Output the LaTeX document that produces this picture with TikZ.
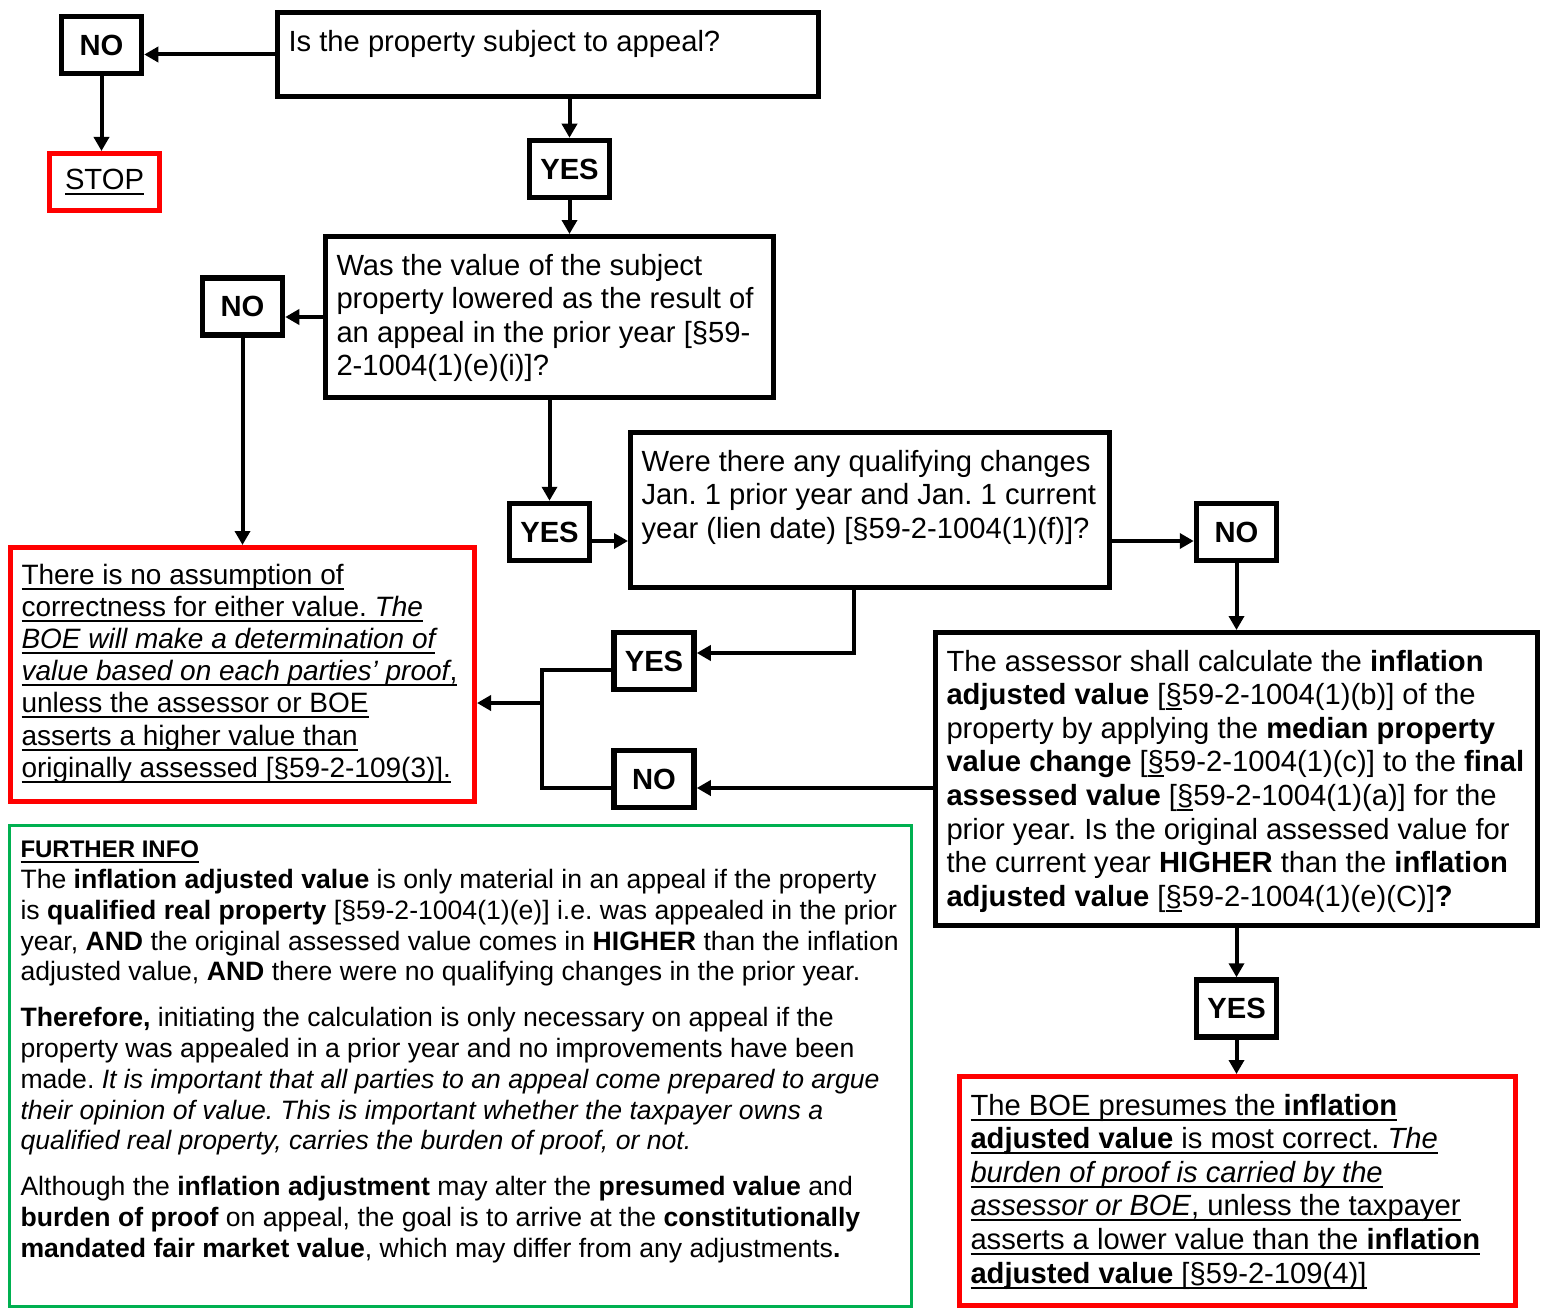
\documentclass[tikz,border=0pt]{standalone}
\usepackage{fontspec}
\setmainfont{Liberation Sans}
\usetikzlibrary{arrows.meta}
\tikzset{>={Triangle[length=14pt,width=15pt]}}
\frenchspacing

\definecolor{boxred}{RGB}{255,0,0}
\definecolor{boxgreen}{RGB}{0,176,80}

\newcommand{\mainsize}{\fontsize{29.2}{33.6}\selectfont}
\newcommand{\redsize}{\fontsize{28}{32.2}\selectfont}
\newcommand{\infosize}{\fontsize{26.6}{30.7}\selectfont}
\newcommand{\headsize}{\fontsize{24}{30.7}\selectfont}

\newsavebox{\ulsave}
\newcommand{\ulin}[1]{\leavevmode\sbox{\ulsave}{#1}\rlap{\rule[-5.5pt]{\wd\ulsave}{2pt}}\usebox{\ulsave}}
\newcommand{\boxtext}[3]{\parbox[c][#2][t]{#1}{\leftskip=11pt\rightskip=0pt plus 1fil\relax\strut#3}}

\begin{document}
\begin{tikzpicture}[x=1pt,y=-1pt,
    qbox/.style={draw,line width=5pt,inner xsep=0pt,inner ysep=15pt,anchor=north west,font=\mainsize},
    redbox/.style={qbox,draw=boxred},
    ans/.style={draw,line width=5.5pt,minimum width=80pt,minimum height=57pt,inner sep=0pt,font=\mainsize\bfseries},
    conn/.style={line width=4pt}]

  \useasboundingbox (0,0) rectangle (1551,1311);

  \node[qbox] (q1) at (275,10) {\boxtext{541pt}{54pt}{Is the property subject to appeal?}};
  \node[qbox] (q2) at (323,234) {\boxtext{448pt}{131pt}{Was the value of the subject\\
    property lowered as the result of\\
    an appeal in the prior year [§59-\\
    2-1004(1)(e)(i)]?}};
  \node[qbox] (q3) at (628,430) {\boxtext{479pt}{125pt}{Were there any qualifying changes\\
    Jan. 1 prior year and Jan. 1 current\\
    year (lien date) [§59-2-1004(1)(f)]?}};
  \node[qbox] (q4) at (933,630) {\boxtext{602pt}{263pt}{The assessor shall calculate the \textbf{inflation}\\
    \textbf{adjusted value} [\ulin{§}59-2-1004(1)(b)] of the\\
    property by applying the \textbf{median property}\\
    \textbf{value change} [\ulin{§}59-2-1004(1)(c)] to the \textbf{final}\\
    \textbf{assessed value} [\ulin{§}59-2-1004(1)(a)] for the\\
    prior year. Is the original assessed value for\\
    the current year \textbf{HIGHER} than the \textbf{inflation}\\
    \textbf{adjusted value} [\ulin{§}59-2-1004(1)(e)(C)]\textbf{?}}};

  \node[redbox,inner ysep=14pt,font=\redsize] (redl) at (8,545) {\boxtext{464pt}{226pt}{\ulin{There is no assumption of}\\
    \ulin{correctness for either value. \textit{The}}\\
    \ulin{\itshape BOE will make a determination of}\\
    \ulin{\textit{value based on each parties’ proof},}\\
    \ulin{unless the assessor or BOE}\\
    \ulin{asserts a higher value than}\\
    \ulin{originally assessed [§59-2-109(3)].}}};
  \node[redbox] (redr) at (957,1074) {\boxtext{556pt}{199pt}{\ulin{The BOE presumes the \textbf{inflation}}\\
    \ulin{\textbf{adjusted value} is most correct. \textit{The}}\\
    \ulin{\itshape burden of proof is carried by the}\\
    \ulin{\textit{assessor or BOE}, unless the taxpayer}\\
    \ulin{asserts a lower value than the \textbf{inflation}}\\
    \ulin{\textbf{adjusted value} [§59-2-109(4)]}}};

  \node[qbox,draw=boxgreen,line width=3pt,inner ysep=11pt,font=\infosize] (info) at (8,824) {\boxtext{902pt}{459pt}{{\headsize\ulin{\bfseries FURTHER INFO}}\\
    The \textbf{inflation adjusted value} is only material in an appeal if the property\\
    is \textbf{qualified real property} [§59-2-1004(1)(e)] i.e. was appealed in the prior\\
    year, \textbf{AND} the original assessed value comes in \textbf{HIGHER} than the inflation\\
    adjusted value, \textbf{AND} there were no qualifying changes in the prior year.\\[15.5pt]
    \textbf{Therefore,} initiating the calculation is only necessary on appeal if the\\
    property was appealed in a prior year and no improvements have been\\
    made. \textit{It is important that all parties to an appeal come prepared to argue}\\
    \textit{their opinion of value. This is important whether the taxpayer owns a}\\
    \textit{qualified real property, carries the burden of proof, or not.}\\[15.5pt]
    Although the \textbf{inflation adjustment} may alter the \textbf{presumed value} and\\
    \textbf{burden of proof} on appeal, the goal is to arrive at the \textbf{constitutionally}\\
    \textbf{mandated fair market value}, which may differ from any adjustments\textbf{.}}};

  \node[ans] (no1) at (101.5,45) {NO};
  \node[ans,draw=boxred,line width=5pt,minimum width=110pt,font=\mainsize] (stop) at (104.5,182) {\ulin{STOP}};
  \node[ans] (yes1) at (569.5,169) {YES};
  \node[ans] (no2) at (242.5,306.5) {NO};
  \node[ans] (yes2) at (549.5,532) {YES};
  \node[ans] (no3) at (1236.5,532) {NO};
  \node[ans] (yes3) at (654,661) {YES};
  \node[ans] (no4) at (654,779) {NO};
  \node[ans] (yes4) at (1236.5,1008.5) {YES};

  \draw[conn,->] (q1.west) -- (q1.west -| no1.east);
  \draw[conn,->] (no1.south) -- (no1.south |- stop.north);
  \draw[conn,->] (yes1.north |- q1.south) -- (yes1.north);
  \draw[conn,->] (yes1.south) -- (yes1.south |- q2.north);
  \draw[conn,->] (q2.west) -- (q2.west -| no2.east);
  \draw[conn,->] (no2.south) -- (no2.south |- redl.north);
  \draw[conn,->] (yes2.north |- q2.south) -- (yes2.north);
  \draw[conn,->] ([yshift=-9pt]yes2.east) -- ([yshift=-9pt]yes2.east -| q3.west);
  \draw[conn,->] ([yshift=-9pt]no3.west -| q3.east) -- ([yshift=-9pt]no3.west);
  \draw[conn,->] (no3.south) -- (no3.south |- q4.north);
  \draw[conn,->] ([xshift=-16pt]q3.south) |- ([yshift=8pt]yes3.east);
  \draw[conn,->] ([yshift=-9pt]no4.east -| q4.west) -- ([yshift=-9pt]no4.east);
  \coordinate (join) at (542,703);
  \draw[conn] ([yshift=-9pt]yes3.west) -| (join) |- ([yshift=-9pt]no4.west);
  \draw[conn,->] (join) -- (join -| redl.east);
  \draw[conn,->] (yes4.north |- q4.south) -- (yes4.north);
  \draw[conn,->] (yes4.south) -- (yes4.south |- redr.north);
\end{tikzpicture}
\end{document}
